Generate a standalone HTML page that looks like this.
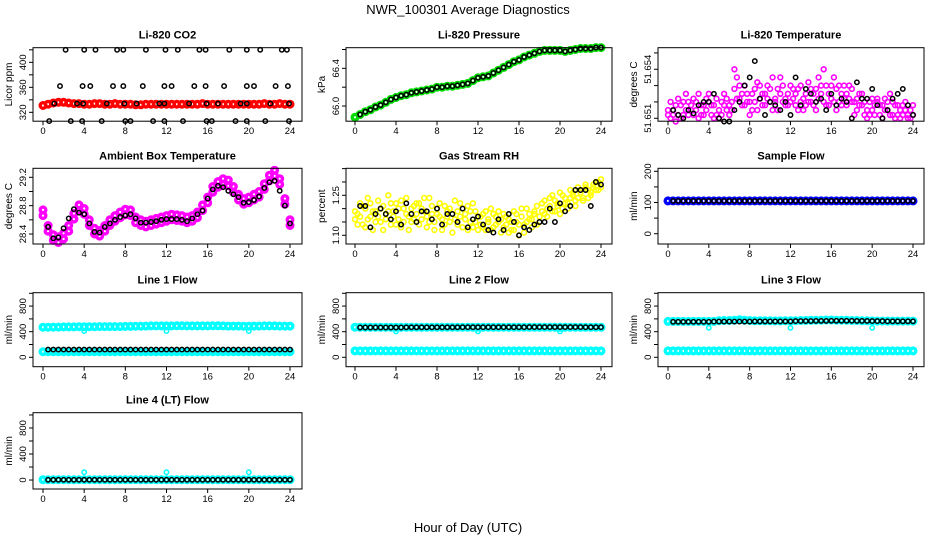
<!DOCTYPE html>
<html><head><meta charset="utf-8"><style>
body{margin:0;background:#fff}
svg{display:block;font-family:"Liberation Sans",Arial,sans-serif}
</style></head><body>
<svg id="fig" width="936" height="540" viewBox="0 0 936 540">
<rect width="936" height="540" fill="#fff"/>
<text x="468" y="14" font-size="13" text-anchor="middle">NWR_100301  Average Diagnostics</text>
<text x="468" y="532" font-size="13" text-anchor="middle">Hour of Day (UTC)</text>
</svg>
<script>
const hoursD=[0,0.5,1,1.5,2,2.5,3,3.5,4,4.5,5,5.5,6,6.5,7,7.5,8,8.5,9,9.5,10,10.5,11,11.5,12,12.5,13,13.5,14,14.5,15,15.5,16,16.5,17,17.5,18,18.5,19,19.5,20,20.5,21,21.5,22,22.5,23,23.5,24];
const hoursB=[0.5,1,1.5,2,2.5,3,3.5,4,4.5,5,5.5,6,6.5,7,7.5,8,8.5,9,9.5,10,10.5,11,11.5,12,12.5,13,13.5,14,14.5,15,15.5,16,16.5,17,17.5,18,18.5,19,19.5,20,20.5,21,21.5,22,22.5,23,23.5,24];
const hoursF=[0,0.25,0.5,0.75,1,1.25,1.5,1.75,2,2.25,2.5,2.75,3,3.25,3.5,3.75,4,4.25,4.5,4.75,5,5.25,5.5,5.75,6,6.25,6.5,6.75,7,7.25,7.5,7.75,8,8.25,8.5,8.75,9,9.25,9.5,9.75,10,10.25,10.5,10.75,11,11.25,11.5,11.75,12,12.25,12.5,12.75,13,13.25,13.5,13.75,14,14.25,14.5,14.75,15,15.25,15.5,15.75,16,16.25,16.5,16.75,17,17.25,17.5,17.75,18,18.25,18.5,18.75,19,19.25,19.5,19.75,20,20.25,20.5,20.75,21,21.25,21.5,21.75,22,22.25,22.5,22.75,23,23.25,23.5,23.75,24];
const xTicks=[0,4,8,12,16,20,24];
const dipHours=[4,12,20];

const co2Red=[331,333,335,336,336,335,334,334,333,333,334,334,333,333,334,333,333,333,332,332,333,333,333,333,333,333,333,333,333,333,333,334,333,333,333,333,333,333,333,333,333,333,333,334,333,333,334,333,333];
const co2BlackHours=[2.2,4,5.1,7.2,7.8,10,11.9,13.1,15.2,15.8,18.1,19.8,21.1,23.2,23.7,0.6,2.7,3.8,5.7,8,8.5,10.7,11.8,13.6,15.9,16.4,18.7,19.8,21.6,23.9,1.65,3.85,4.6,6.8,7.8,9.7,11.8,12.5,14.7,15.8,17.6,19.8,20.5,22.6,23.8,1.1,3.3,3.9,6.2,7.9,9.1,11.3,11.8,14.2,15.9,17,19.2,19.8,22.1,23.9];
const co2Black=[420,420,420,420,420,420,420,420,420,420,420,420,420,420,420,306,306,306,306,306,306,306,306,306,306,306,306,306,306,306,362,362,362,362,362,362,362,362,362,362,362,362,362,362,362,334,334,334,334,334,334,334,334,334,334,334,334,334,334,334];
const presGreen=[65.88,65.91,65.94,65.96,65.99,66.01,66.04,66.07,66.09,66.11,66.12,66.14,66.15,66.16,66.17,66.18,66.20,66.20,66.21,66.21,66.22,66.23,66.24,66.27,66.30,66.31,66.32,66.35,66.38,66.41,66.44,66.47,66.49,66.52,66.54,66.56,66.58,66.59,66.59,66.59,66.59,66.58,66.59,66.60,66.61,66.61,66.61,66.62,66.62];
const presBlack=[65.91,65.94,65.96,65.99,66.01,66.04,66.07,66.09,66.11,66.12,66.14,66.15,66.16,66.17,66.18,66.20,66.20,66.21,66.21,66.22,66.23,66.24,66.27,66.30,66.31,66.32,66.35,66.38,66.41,66.44,66.47,66.49,66.52,66.54,66.56,66.58,66.59,66.59,66.59,66.59,66.58,66.59,66.60,66.61,66.61,66.61,66.62,66.62];
const tempA=[51.6512,51.6510,51.6515,51.6518,51.6512,51.6510,51.6520,51.6515,51.6512,51.6518,51.6522,51.6515,51.6510,51.6512,51.6518,51.6522,51.6525,51.6518,51.6510,51.6512,51.6515,51.6520,51.6525,51.6515,51.6518,
51.6520,51.6528,51.6535,51.6522,51.6518,51.6530,51.6525,51.6520,51.6515,51.6528,51.6532,51.6522,51.6518,51.6525,51.6530,51.6520,51.6515,51.6522,51.6528,51.6535,51.6520,51.6518,51.6525,51.6530,
51.6522,51.6518,51.6528,51.6520,51.6515,51.6525,51.6532,51.6520,51.6518,51.6528,51.6535,51.6525,51.6520,51.6530,51.6518,51.6522,51.6535,51.6528,51.6520,51.6525,51.6530,51.6518,51.6522,51.6528,
51.6520,51.6515,51.6525,51.6518,51.6512,51.6510,51.6520,51.6515,51.6512,51.6522,51.6518,51.6510,51.6515,51.6520,51.6525,51.6512,51.6510,51.6518,51.6515,51.6512,51.6520,51.6510,51.6515,51.6512];
const tempB=[51.6515,51.6520,51.6512,51.6508,51.6522,51.6518,51.6512,51.6525,51.6520,51.6515,51.6512,51.6520,51.6525,51.6518,51.6512,51.6515,51.6520,51.6512,51.6518,51.6522,51.6510,51.6512,51.6518,51.6522,51.6512,
51.6515,51.6540,51.6522,51.6530,51.6525,51.6518,51.6520,51.6512,51.6525,51.6520,51.6515,51.6530,51.6525,51.6518,51.6522,51.6528,51.6535,51.6520,51.6515,51.6525,51.6530,51.6522,51.6518,51.6520,
51.6528,51.6525,51.6515,51.6530,51.6522,51.6518,51.6520,51.6528,51.6525,51.6515,51.6522,51.6530,51.6540,51.6518,51.6525,51.6530,51.6520,51.6515,51.6530,51.6518,51.6522,51.6525,51.6530,51.6520,
51.6512,51.6522,51.6518,51.6525,51.6520,51.6515,51.6512,51.6522,51.6518,51.6520,51.6512,51.6518,51.6522,51.6515,51.6512,51.6520,51.6518,51.6512,51.6510,51.6518,51.6515,51.6512,51.6510,51.6518];
const tempBlack=[51.6515,51.6512,51.6510,51.6515,51.6513,51.6518,51.6520,51.6520,51.6525,51.6510,51.6508,51.6508,51.6515,51.6520,51.6530,51.6535,51.6545,51.6522,51.6512,51.6520,51.6518,51.6515,51.6520,51.6512,51.6535,51.6518,51.6528,51.6525,51.6520,51.6522,51.6515,51.6525,51.6518,51.6522,51.6520,51.6510,51.6532,51.6522,51.6522,51.6528,51.6518,51.6510,51.6515,51.6522,51.6525,51.6528,51.6518,51.6512];
const ambHi=[28.74,28.52,28.39,28.36,28.41,28.52,28.69,28.81,28.76,28.60,28.48,28.45,28.52,28.60,28.66,28.71,28.75,28.74,28.64,28.60,28.58,28.60,28.62,28.64,28.66,28.68,28.67,28.66,28.64,28.66,28.71,28.81,28.92,29.07,29.14,29.18,29.16,29.07,28.96,28.90,28.92,28.96,29.00,29.11,29.23,29.30,29.18,28.90,28.60];
const ambLo=[28.66,28.44,28.31,28.28,28.33,28.44,28.61,28.73,28.68,28.52,28.40,28.37,28.44,28.52,28.58,28.63,28.67,28.66,28.56,28.52,28.50,28.52,28.54,28.56,28.58,28.60,28.59,28.58,28.56,28.58,28.63,28.73,28.84,28.99,29.06,29.10,29.08,28.99,28.88,28.82,28.84,28.88,28.92,29.03,29.15,29.22,29.10,28.82,28.52];
const ambBlack=[28.50,28.34,28.35,28.48,28.62,28.75,28.70,28.68,28.55,28.43,28.42,28.50,28.55,28.60,28.64,28.66,28.68,28.62,28.56,28.56,28.57,28.58,28.60,28.61,28.61,28.61,28.60,28.58,28.62,28.68,28.73,28.90,29.03,29.08,29.06,29.01,28.96,28.92,28.84,28.85,28.88,28.93,29.05,29.13,29.15,29.01,28.80,28.55];
const rhA=[1.16,1.18,1.22,1.14,1.20,1.24,1.17,1.12,1.19,1.23,1.15,1.21,1.18,1.25,1.14,1.19,1.22,1.16,1.13,1.20,1.24,1.17,1.15,1.21,1.18,
1.22,1.16,1.19,1.13,1.24,1.18,1.15,1.20,1.17,1.12,1.21,1.19,1.15,1.18,1.23,1.14,1.17,1.20,1.16,1.12,1.19,1.22,1.15,1.17,
1.14,1.18,1.12,1.16,1.20,1.13,1.17,1.15,1.11,1.18,1.14,1.16,1.12,1.19,1.15,1.10,1.17,1.14,1.20,1.16,1.13,1.18,1.21,1.15,
1.19,1.23,1.17,1.21,1.25,1.19,1.22,1.26,1.20,1.24,1.22,1.27,1.25,1.23,1.28,1.26,1.24,1.29,1.27,1.25,1.28,1.30,1.27,1.31];
const rhB=[1.19,1.14,1.17,1.21,1.13,1.16,1.22,1.19,1.15,1.17,1.20,1.12,1.16,1.19,1.22,1.17,1.14,1.20,1.23,1.15,1.18,1.12,1.20,1.16,1.22,
1.14,1.20,1.24,1.17,1.15,1.21,1.12,1.18,1.22,1.16,1.14,1.17,1.20,1.11,1.16,1.19,1.22,1.13,1.18,1.21,1.15,1.13,1.19,1.12,
1.17,1.13,1.19,1.15,1.12,1.18,1.14,1.19,1.16,1.13,1.17,1.11,1.15,1.12,1.18,1.14,1.20,1.11,1.15,1.18,1.16,1.19,1.14,1.17,
1.22,1.18,1.20,1.24,1.19,1.23,1.21,1.18,1.25,1.22,1.20,1.24,1.26,1.21,1.24,1.27,1.23,1.28,1.24,1.26,1.29,1.27,1.30,1.28];
const rhBlack=[1.21,1.21,1.13,1.18,1.20,1.18,1.16,1.19,1.14,1.22,1.18,1.15,1.19,1.19,1.16,1.20,1.14,1.18,1.18,1.15,1.20,1.13,1.16,1.17,1.14,1.12,1.11,1.16,1.12,1.18,1.15,1.10,1.13,1.12,1.14,1.15,1.15,1.20,1.15,1.22,1.19,1.21,1.27,1.27,1.27,1.21,1.30,1.29];
const sampleBlue=[105,105,105,105,105,105,105,105,105,105,105,105,105,105,105,105,105,105,105,105,105,105,105,105,105,105,105,105,105,105,105,105,105,105,105,105,105,105,105,105,105,105,105,105,105,105,105,105,105];
const sampleBlack=[105,105,105,105,105,105,105,105,105,105,105,105,105,105,105,105,105,105,105,105,105,105,105,105,105,105,105,105,105,105,105,105,105,105,105,105,105,105,105,105,105,105,105,105,105,105,105,105];
const l1High=[470,470,472,472,475,475,475,478,478,478,478,480,480,480,480,480,482,482,485,485,488,490,490,490,490,490,492,492,490,490,490,490,490,492,492,490,488,488,488,485,485,488,488,490,490,490,488,488,488];
const l1Low=[88,88,88,88,88,88,88,88,88,88,88,88,88,88,88,88,88,88,88,88,88,88,88,88,88,88,88,88,88,88,88,88,88,88,88,88,88,88,88,88,88,88,88,88,88,88,88,88,88];
const l1Black=[120,120,120,120,120,120,120,120,120,120,120,120,120,120,120,120,120,120,120,120,120,120,120,120,120,120,120,120,120,120,120,120,120,120,120,120,120,120,120,120,120,120,120,120,120,120,120,120];
const l1Dip=[410,410,410];
const l2Low=[100,100,100,100,100,100,100,100,100,100,100,100,100,100,100,100,100,100,100,100,100,100,100,100,100,100,100,100,100,100,100,100,100,100,100,100,100,100,100,100,100,100,100,100,100,100,100,100,100];
const l2High=[470,470,468,468,468,468,468,468,468,468,468,468,468,468,468,468,468,468,468,468,468,468,468,468,468,468,468,468,468,468,468,468,468,468,468,468,468,468,468,468,468,468,468,468,468,468,468,468,468];
const l2Black=[465,465,465,465,465,465,465,465,465,468,468,468,468,468,468,468,468,468,468,468,470,470,470,470,470,470,470,470,470,470,470,470,470,472,472,472,472,472,472,472,472,472,472,472,470,470,470,470];
const l2Dip=[405,405,405];
const l3Low=[100,100,100,100,100,100,100,100,100,100,100,100,100,100,100,100,100,100,100,100,100,100,100,100,100,100,100,100,100,100,100,100,100,100,100,100,100,100,100,100,100,100,100,100,100,100,100,100,100];
const l3High=[560,560,560,560,560,560,560,560,560,560,570,575,575,580,585,580,575,570,570,570,570,568,568,570,570,572,575,575,578,580,580,582,582,580,580,578,575,575,572,570,568,565,565,565,565,565,565,565,565];
const l3Black=[555,555,555,555,555,555,555,555,558,558,558,558,558,558,558,558,560,560,560,560,560,560,560,560,565,565,565,565,568,568,568,570,570,570,570,570,568,568,568,565,565,565,562,562,562,562,562,562];
const l3Dip=[460,460,460];
const l4Cyan=[5,5,5,5,5,5,5,5,5,5,5,5,5,5,5,5,5,5,5,5,5,5,5,5,5,5,5,5,5,5,5,5,5,5,5,5,5,5,5,5,5,5,5,5,5,5,5,5,5];
const l4Black=[3,3,3,3,3,3,3,3,3,3,3,3,3,3,3,3,3,3,3,3,3,3,3,3,3,3,3,3,3,3,3,3,3,3,3,3,3,3,3,3,3,3,3,3,3,3,3,3];
const l4Dip=[120,120,120];

const NS='http://www.w3.org/2000/svg';
const svg=document.getElementById('fig');
const cols=[{L:33,R:302,x0:43,x24:290},{L:346,R:612,x0:355,x24:601},{L:658,R:924,x0:668,x24:913}];
const rows=[{T:47.7,B:121.2},{T:168.3,B:244},{T:292.7,B:366.7},{T:412.7,B:489}];
function mk(tag,attrs,parent){const e=document.createElementNS(NS,tag);for(const k in attrs)e.setAttribute(k,attrs[k]);(parent||svg).appendChild(e);return e;}

function panel(p){
  const c=cols[p.col],r=rows[p.row];
  const g=mk('g',{});
  
  
  const xs=h=>c.x0+(h/24)*(c.x24-c.x0);
  const ys=v=>r.B-(v-p.ymin)/(p.ymax-p.ymin)*(r.B-r.T);
  p.series.forEach(s=>{
    const sg=mk('g',{},g);
    
    
    const n=Math.min(s.x.length,s.y.length);
    for(let i=0;i<n;i++){
      const cy=ys(s.y[i]);
      const cc=mk('circle',{cx:xs(s.x[i]).toFixed(1),cy:cy.toFixed(1),r:s.r||2.2,fill:'none',stroke:s.color,'stroke-width':s.w||1.5},sg);
      
      
    }
  });
  const box=mk('rect',{x:c.L,y:r.T,width:c.R-c.L,height:r.B-r.T,fill:'none',stroke:'#000','stroke-width':1},g);
  
  
  const t=mk('text',{x:(c.L+c.R)/2,y:r.T-9,'font-size':11,'font-weight':'bold','text-anchor':'middle'},g);
  t.textContent=p.title;
  
  
  xTicks.forEach(h=>{
    const x=xs(h);
    mk('line',{x1:x,x2:x,y1:r.B,y2:r.B+4,stroke:'#000'},g);
    const tl=mk('text',{x:x,y:r.B+13,'font-size':9.5,'text-anchor':'middle'},g);
    tl.textContent=h;
    
    
  });
  p.yticks.forEach(v=>{
    const y=ys(v);
    mk('line',{x1:c.L-4,x2:c.L,y1:y,y2:y,stroke:'#000'},g);
  });
  p.ylabels.forEach(v=>{
    const y=ys(v);
    const tl=mk('text',{x:0,y:0,'font-size':9.5,'text-anchor':'middle',transform:`translate(${c.L-7},${y}) rotate(-90)`},g);
    tl.textContent=v;
    
    
  });
  const yl=mk('text',{x:0,y:0,'font-size':10,'text-anchor':'middle',transform:`translate(${c.L-21},${(r.T+r.B)/2}) rotate(-90)`},g);
  yl.textContent=p.ylab;
  
  
}

const CY='#00ffff';
const DR=2.8, DW=3.4;
panel({name:'co2-panel',title:'Li-820 CO2',ylab:'Licor ppm',col:0,row:0,ymin:305.8,ymax:423.4,yticks:[320,340,360,380,400,420],ylabels:['320','360','400'],
 series:[{name:'co2-series',x:hoursD,y:co2Red,color:'#ff0000',r:DR,w:DW},{name:'co2-mean',x:co2BlackHours,y:co2Black,color:'#000'}]});
panel({name:'pressure-panel',title:'Li-820 Pressure',ylab:'kPa',col:1,row:0,ymin:65.839,ymax:66.619,yticks:[66.0,66.2,66.4,66.6],ylabels:['66.0','66.4'],
 series:[{name:'pressure-series',x:hoursD,y:presGreen,color:'#00dd00',r:DR,w:DW},{name:'pressure-mean',x:hoursB,y:presBlack,color:'#000'}]});
panel({name:'li820-temp-panel',title:'Li-820 Temperature',ylab:'degrees C',col:2,row:0,ymin:51.65082,ymax:51.65532,yticks:[51.651,51.652,51.653,51.654,51.655],ylabels:['51.651','51.654'],
 series:[{name:'temp-series-a',x:hoursF,y:tempA,color:'#ff00ff',r:2.4,w:1.6},{name:'temp-series-b',x:hoursF,y:tempB,color:'#ff00ff',r:2.4,w:1.6},{name:'temp-mean',x:hoursB,y:tempBlack,color:'#000'}]});
panel({name:'ambient-temp-panel',title:'Ambient Box Temperature',ylab:'degrees C',col:0,row:1,ymin:28.259,ymax:29.327,yticks:[28.4,28.6,28.8,29.0,29.2],ylabels:['28.4','28.8','29.2'],
 series:[{name:'ambient-high',x:hoursD,y:ambHi,color:'#ff00ff',r:DR,w:DW},{name:'ambient-low',x:hoursD,y:ambLo,color:'#ff00ff',r:DR,w:DW},{name:'ambient-mean',x:hoursB,y:ambBlack,color:'#000'}]});
panel({name:'rh-panel',title:'Gas Stream RH',ylab:'percent',col:1,row:1,ymin:1.0674,ymax:1.3512,yticks:[1.10,1.15,1.20,1.25,1.30,1.35],ylabels:['1.10','1.25'],
 series:[{name:'rh-series-a',x:hoursF,y:rhA,color:'#ffff00',r:2.4,w:1.6},{name:'rh-series-b',x:hoursF,y:rhB,color:'#ffff00',r:2.4,w:1.6},{name:'rh-mean',x:hoursB,y:rhBlack,color:'#000'}]});
panel({name:'sample-flow-panel',title:'Sample Flow',ylab:'ml/min',col:2,row:1,ymin:-33,ymax:209.6,yticks:[0,50,100,150,200],ylabels:['0','100','200'],
 series:[{name:'sample-series',x:hoursD,y:sampleBlue,color:'#0000ff',r:DR,w:DW},{name:'sample-mean',x:hoursB,y:sampleBlack,color:'#000'}]});
const flowTicks=[0,200,400,600,800,1000],flowLabels=['0','400','800'];
panel({name:'line1-flow-panel',title:'Line 1 Flow',ylab:'ml/min',col:0,row:2,ymin:-147,ymax:1009,yticks:flowTicks,ylabels:flowLabels,
 series:[{name:'line1-high',x:hoursD,y:l1High,color:CY,r:DR,w:DW},{name:'line1-low',x:hoursD,y:l1Low,color:CY,r:DR,w:DW},{name:'line1-dips',x:dipHours,y:l1Dip,color:CY},{name:'line1-mean',x:hoursB,y:l1Black,color:'#000'}]});
panel({name:'line2-flow-panel',title:'Line 2 Flow',ylab:'ml/min',col:1,row:2,ymin:-147,ymax:1009,yticks:flowTicks,ylabels:flowLabels,
 series:[{name:'line2-low',x:hoursD,y:l2Low,color:CY,r:DR,w:DW},{name:'line2-high',x:hoursD,y:l2High,color:CY,r:DR,w:DW},{name:'line2-dips',x:dipHours,y:l2Dip,color:CY},{name:'line2-mean',x:hoursB,y:l2Black,color:'#000'}]});
panel({name:'line3-flow-panel',title:'Line 3 Flow',ylab:'ml/min',col:2,row:2,ymin:-147,ymax:1009,yticks:flowTicks,ylabels:flowLabels,
 series:[{name:'line3-low',x:hoursD,y:l3Low,color:CY,r:DR,w:DW},{name:'line3-high',x:hoursD,y:l3High,color:CY,r:DR,w:DW},{name:'line3-dips',x:dipHours,y:l3Dip,color:CY},{name:'line3-mean',x:hoursB,y:l3Black,color:'#000'}]});
panel({name:'line4-flow-panel',title:'Line 4 (LT) Flow',ylab:'ml/min',col:0,row:3,ymin:-138,ymax:1035,yticks:flowTicks,ylabels:flowLabels,
 series:[{name:'line4-series',x:hoursD,y:l4Cyan,color:CY,r:DR,w:DW},{name:'line4-dips',x:dipHours,y:l4Dip,color:CY},{name:'line4-mean',x:hoursB,y:l4Black,color:'#000'}]});
</script>
</body></html>
